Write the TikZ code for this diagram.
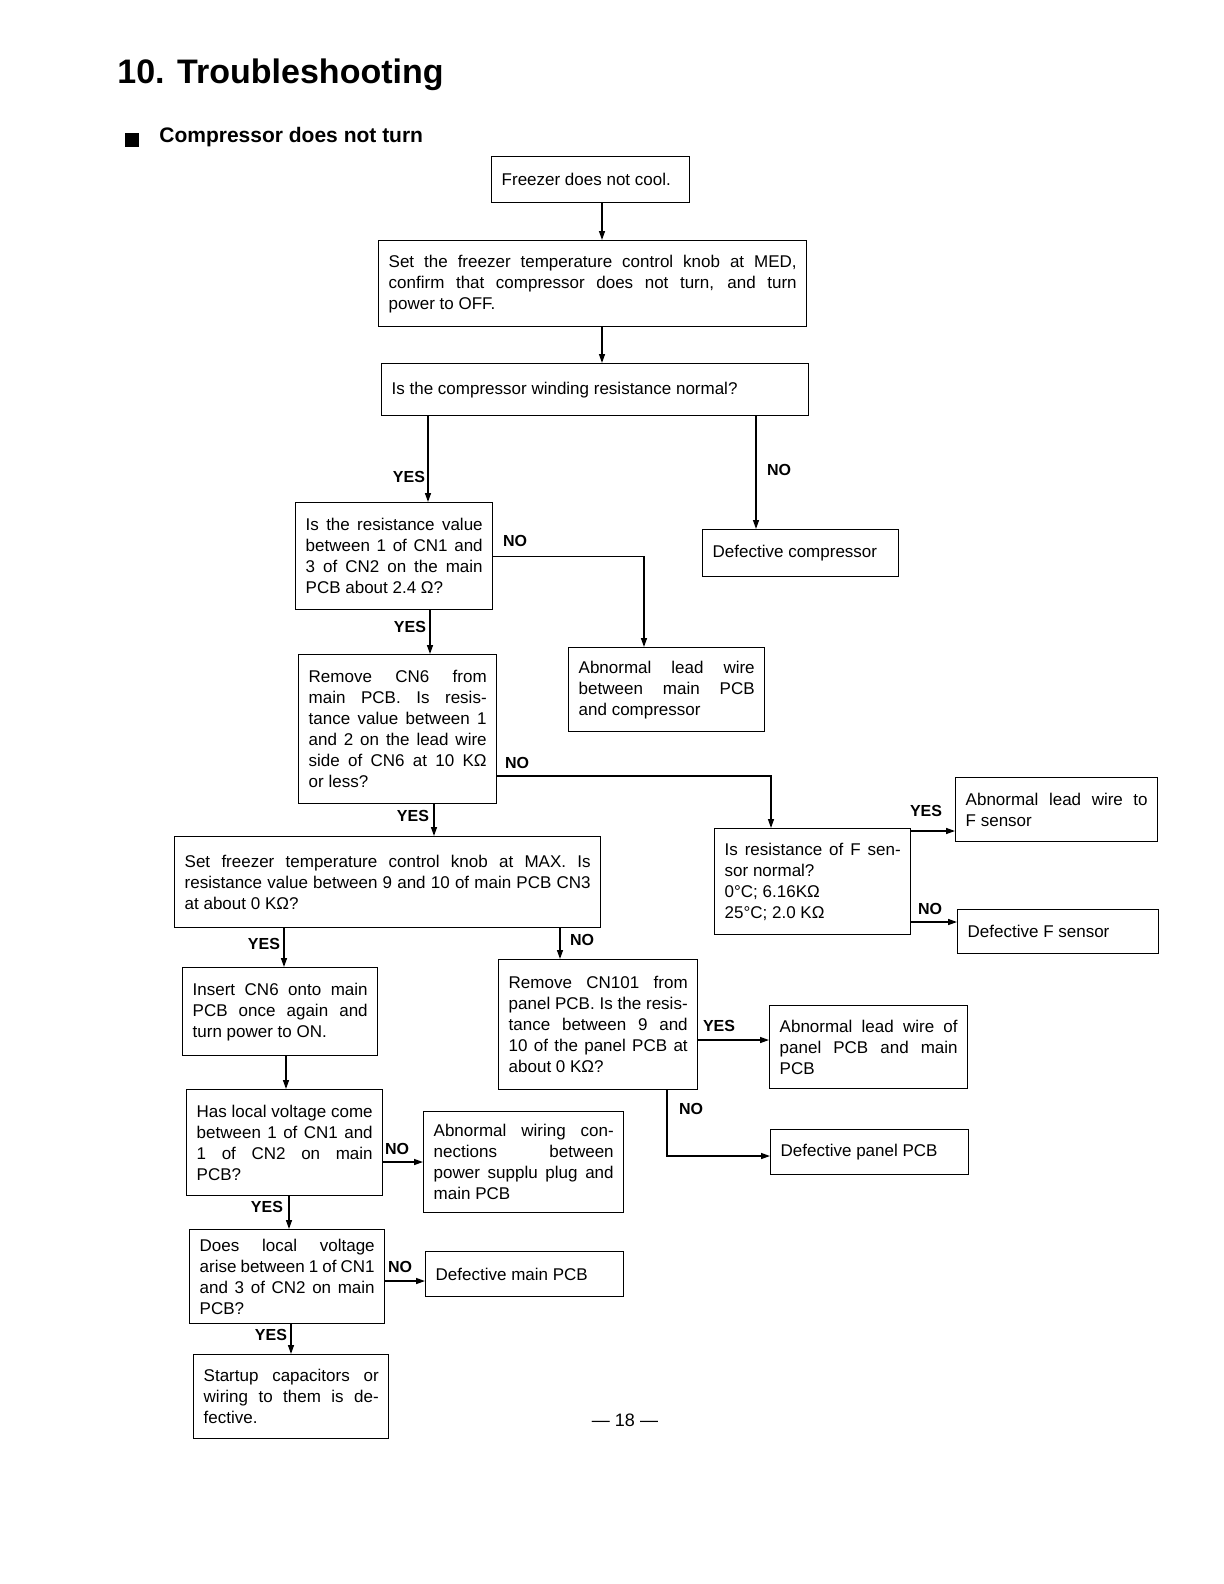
\documentclass[tikz,border=0pt]{standalone}
\usepackage{fontspec}
\setmainfont{Liberation Sans}
\usetikzlibrary{arrows.meta}
\tolerance=10000
\hbadness=10000

\begin{document}
\begin{tikzpicture}[x=0.5pt, y=-0.5pt,
    box/.style={draw, line width=0.7pt, anchor=north west, inner xsep=5pt,
      inner ysep=3pt, align=justify, text width=#1,
      font=\fontsize{8.5}{10.5}\selectfont},
    yesno/.style={font=\bfseries\fontsize{8}{9.6}\selectfont, inner sep=0pt},
    flow/.style={line width=0.7pt, -{Triangle[length=4.5pt, width=3pt]}},
    heading/.style={anchor=base west, inner sep=0pt}
  ]
  \useasboundingbox (0,0) rectangle (1224,1584);

  % Headings
  \node[heading, font=\bfseries\fontsize{17}{20}\selectfont] (title) at (117,84)
    {10. Troubleshooting};
  \node[heading, font=\bfseries\fontsize{10.5}{12.5}\selectfont] (subtitle) at (125,142)
    {\raisebox{-2.5pt}{\rule{7pt}{7pt}}\hspace{10pt}Compressor does not turn};

  % Main column
  \node[box=89pt, minimum height=23pt] (start) at (491,156) {Freezer does not cool.};
  \node[box=204pt, minimum height=43pt] (setmed) at (378,240)
    {Set the freezer temperature control knob at MED,\linebreak
     confirm that compressor does not turn, and turn\linebreak
     power to OFF.};
  \node[box=203.5pt, minimum height=26pt] (winding) at (381,363)
    {Is the compressor winding resistance normal?};
  \node[box=88pt, minimum height=23.5pt] (defcomp) at (702,529) {Defective compressor};
  \node[box=88.5pt, minimum height=53.5pt] (cnres) at (295,502)
    {Is the resistance value\linebreak between 1 of CN1 and\linebreak
     3 of CN2 on the main\linebreak PCB about 2.4 Ω?};
  \node[box=88pt, minimum height=42pt] (leadcomp) at (568,647)
    {Abnormal lead wire\linebreak between main PCB\linebreak and compressor};
  \node[box=89pt, minimum height=74.5pt] (cnsix) at (298,654)
    {Remove CN6 from\linebreak main PCB. Is resis-\linebreak tance value between 1\linebreak
     and 2 on the lead wire\linebreak side of CN6 at 10 KΩ\linebreak or less?};

  % F sensor branch
  \node[box=88pt, minimum height=53pt] (fsensor) at (714,828)
    {Is resistance of F sen-\linebreak sor normal?\\ 0°C; 6.16KΩ\\ 25°C; 2.0 KΩ};
  \node[box=91pt, minimum height=32pt] (leadf) at (955,777)
    {Abnormal lead wire to\linebreak F sensor};
  \node[box=90.5pt, minimum height=22pt] (deff) at (957,909) {Defective F sensor};

  % CN3 check
  \node[box=203pt, minimum height=45.5pt] (setmax) at (174,836)
    {Set freezer temperature control knob at MAX. Is\linebreak
     resistance value between 9 and 10 of main PCB CN3\linebreak
     at about 0 KΩ?};
  \node[box=87.5pt, minimum height=44pt] (insert) at (182,967)
    {Insert CN6 onto main\linebreak PCB once again and\linebreak turn power to ON.};
  \node[box=89.5pt, minimum height=65pt] (cnpanel) at (498,959)
    {Remove CN101 from\linebreak panel PCB. Is the resis-\linebreak tance between 9 and\linebreak
     10 of the panel PCB at\linebreak about 0 KΩ?};
  \node[box=89pt, minimum height=41.5pt] (leadpanel) at (769,1005)
    {Abnormal lead wire of\linebreak panel PCB and main\linebreak PCB};
  \node[box=89pt, minimum height=22.5pt] (defpanel) at (770,1129) {Defective panel PCB};

  % Voltage checks
  \node[box=88pt, minimum height=53pt] (voltone) at (186,1089)
    {Has local voltage come\linebreak between 1 of CN1 and\linebreak
     1 of CN2 on main\linebreak PCB?};
  \node[box=90pt, minimum height=50.5pt] (wiring) at (423,1111)
    {Abnormal wiring con-\linebreak nections between\linebreak
     power supplu plug and\linebreak main PCB};
  \node[box=87.5pt, minimum height=47pt] (volttwo) at (189,1229)
    {Does local voltage\linebreak arise between 1 of CN1\linebreak
     and 3 of CN2 on main\linebreak PCB?};
  \node[box=89pt, minimum height=22.5pt] (defmain) at (425,1251) {Defective main PCB};
  \node[box=87.5pt, minimum height=42pt] (startup) at (193,1354)
    {Startup capacitors or\linebreak wiring to them is de-\linebreak fective.};

  % Connectors
  \draw[flow] (602,0 |- start.south) -- (602,0 |- setmed.north);
  \draw[flow] (602,0 |- setmed.south) -- (602,0 |- winding.north);
  \draw[flow] (428,0 |- winding.south) -- (428,0 |- cnres.north);
  \draw[flow] (756,0 |- winding.south) -- (756,0 |- defcomp.north);
  \draw[flow] (cnres.east) -| (644,0 |- leadcomp.north);
  \draw[flow] (430,0 |- cnres.south) -- (430,0 |- cnsix.north);
  \draw[flow] (cnsix.east |- 0,776) -| (771,0 |- fsensor.north);
  \draw[flow] (fsensor.east |- 0,831) -- (leadf.west |- 0,831);
  \draw[flow] (fsensor.east |- 0,922) -- (deff.west |- 0,922);
  \draw[flow] (434,0 |- cnsix.south) -- (434,0 |- setmax.north);
  \draw[flow] (284,0 |- setmax.south) -- (284,0 |- insert.north);
  \draw[flow] (560,0 |- setmax.south) -- (560,0 |- cnpanel.north);
  \draw[flow] (cnpanel.east |- 0,1040) -- (leadpanel.west |- 0,1040);
  \draw[flow] (667,0 |- cnpanel.south) |- (defpanel.west |- 0,1156);
  \draw[flow] (286,0 |- insert.south) -- (286,0 |- voltone.north);
  \draw[flow] (voltone.east |- 0,1162) -- (wiring.west |- 0,1162);
  \draw[flow] (289,0 |- voltone.south) -- (289,0 |- volttwo.north);
  \draw[flow] (volttwo.east |- 0,1281) -- (defmain.west |- 0,1281);
  \draw[flow] (291,0 |- volttwo.south) -- (291,0 |- startup.north);

  % Branch labels
  \node[yesno] (y1) at (409,477) {YES};
  \node[yesno] (n1) at (779,470) {NO};
  \node[yesno] (n2) at (515,541) {NO};
  \node[yesno] (y2) at (410,627) {YES};
  \node[yesno] (n3) at (517,763) {NO};
  \node[yesno] (y3) at (413,816) {YES};
  \node[yesno] (y4) at (926,811) {YES};
  \node[yesno] (n4) at (930,909) {NO};
  \node[yesno] (y5) at (264,944) {YES};
  \node[yesno] (n5) at (582,940) {NO};
  \node[yesno] (y6) at (719,1026) {YES};
  \node[yesno] (n6) at (691,1109) {NO};
  \node[yesno] (n7) at (397,1149) {NO};
  \node[yesno] (y7) at (267,1207) {YES};
  \node[yesno] (n8) at (400,1267) {NO};
  \node[yesno] (y8) at (271,1335) {YES};

  % Page number
  \node[font=\fontsize{9}{11}\selectfont] (page) at (625,1420) {— 18 —};
\end{tikzpicture}
\end{document}
